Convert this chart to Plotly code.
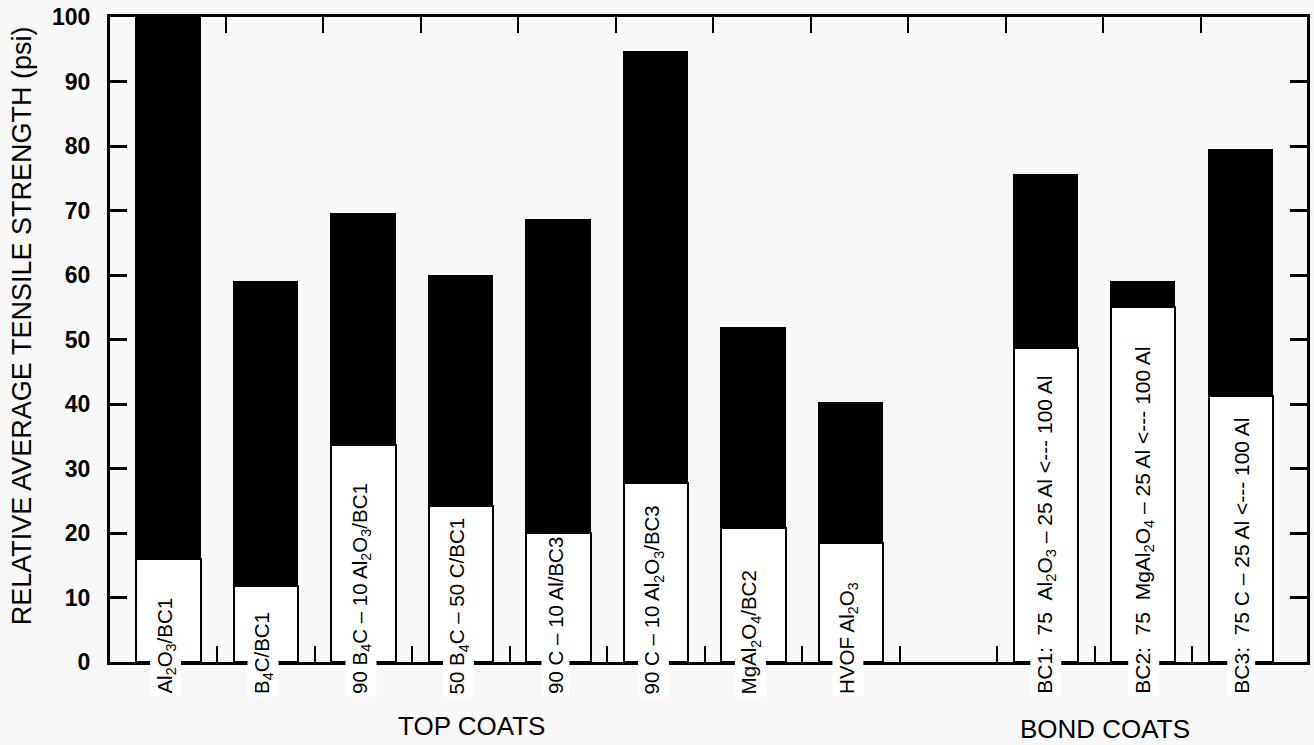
import plotly.graph_objects as go

# ---- data ----
labels = [
    "Al<sub>2</sub>O<sub>3</sub>/BC1",
    "B<sub>4</sub>C/BC1",
    "90 B<sub>4</sub>C – 10 Al<sub>2</sub>O<sub>3</sub>/BC1",
    "50 B<sub>4</sub>C – 50 C/BC1",
    "90 C – 10 Al/BC3",
    "90 C – 10 Al<sub>2</sub>O<sub>3</sub>/BC3",
    "MgAl<sub>2</sub>O<sub>4</sub>/BC2",
    "HVOF Al<sub>2</sub>O<sub>3</sub>",
    "BC1:&nbsp; 75 &nbsp;Al<sub>2</sub>O<sub>3</sub> – 25 Al &lt;--- 100 Al",
    "BC2:&nbsp; 75 &nbsp;MgAl<sub>2</sub>O<sub>4</sub> – 25 Al &lt;--- 100 Al",
    "BC3:&nbsp; 75 C – 25 Al &lt;--- 100 Al",
]
total_strength = [100, 58.9, 69.4, 59.8, 68.6, 94.6, 51.8, 40.2, 75.5, 58.9, 79.4]
white_strength = [16.0, 11.8, 33.7, 24.2, 20.0, 27.7, 20.8, 18.5, 48.7, 55.0, 41.2]
y_ticks = [0, 10, 20, 30, 40, 50, 60, 70, 80, 90, 100]
group_titles = ["TOP COATS", "BOND COATS"]

# ---- layout helpers (positions, not data) ----
positions = [0, 1, 2, 3, 4, 5, 6, 7, 9, 10, 11]
bottom_ticks = [k + 0.5 for k in range(11)]
top_ticks = [k + 0.59 for k in range(11)]
black_part = [t - w for t, w in zip(total_strength, white_strength)]

BG = "#f8f8f8"
FAM = "Liberation Sans, Arial"

fig = go.Figure()
fig.add_trace(go.Bar(x=positions, y=white_strength, width=0.66,
                     marker=dict(color="white", line=dict(color="black", width=2)),
                     showlegend=False, hoverinfo="skip"))
fig.add_trace(go.Bar(x=positions, y=black_part, width=0.66,
                     marker=dict(color="black", line=dict(color="black", width=1)),
                     showlegend=False, hoverinfo="skip"))
# invisible trace to hold the top axis
fig.add_trace(go.Scatter(x=[0], y=[0], xaxis="x2", mode="markers",
                         marker=dict(opacity=0), showlegend=False, hoverinfo="skip"))

xr = [-0.60, 11.68]
fig.update_layout(
    width=1314, height=745, autosize=False,
    barmode="stack", bargap=0,
    paper_bgcolor=BG, plot_bgcolor=BG,
    margin=dict(l=110, r=4, t=17, b=83),
    font=dict(family=FAM, color="black"),
    xaxis=dict(range=xr, showgrid=False, zeroline=False, showline=True,
               linecolor="black", linewidth=3,
               tickmode="array", tickvals=bottom_ticks, showticklabels=False,
               ticks="inside", ticklen=16, tickwidth=2, tickcolor="black"),
    xaxis2=dict(range=xr, overlaying="x", side="top", anchor="y",
                showgrid=False, zeroline=False, showline=True,
                linecolor="black", linewidth=3,
                tickmode="array", tickvals=top_ticks, showticklabels=False,
                ticks="inside", ticklen=16, tickwidth=2, tickcolor="black"),
    yaxis=dict(range=[0, 100], showgrid=False, zeroline=False, showline=True,
               linecolor="black", linewidth=3, mirror="ticks",
               tickmode="array", tickvals=y_ticks,
               ticks="inside", ticklen=17, tickwidth=2.5, tickcolor="black",
               tickfont=dict(family=FAM, size=23, color="black", weight="bold"),
               ticklabelstandoff=12),
)

PX_TOP, PX_BOT = 17, 662
def py(pix):
    return (PX_BOT - pix) / (PX_BOT - PX_TOP)
def px(pix):
    return (pix - 110) / 1200

annotations = []
for p, lab in zip(positions, labels):
    top_coat = p < 8
    annotations.append(dict(x=p - (0.03 if top_coat else 0.0), y=py(697),
                            xref="x", yref="paper", text=lab,
                            textangle=-90, xanchor="center", yanchor="bottom",
                            showarrow=False, bgcolor="white", borderpad=2,
                            font=dict(family=FAM, size=20.5 if top_coat else 21,
                                      color="black")))
annotations.append(dict(x=px(22), y=py(326), xref="paper", yref="paper",
                        text="RELATIVE AVERAGE TENSILE STRENGTH (psi)",
                        textangle=-90, xanchor="center", yanchor="middle",
                        showarrow=False, font=dict(family=FAM, size=27, color="black")))
annotations.append(dict(x=px(472), y=py(726), xref="paper", yref="paper",
                        text=group_titles[0], xanchor="center", yanchor="middle",
                        showarrow=False, font=dict(family=FAM, size=26, color="black")))
annotations.append(dict(x=px(1107), y=py(729), xref="paper", yref="paper",
                        text=group_titles[1], xanchor="center", yanchor="middle",
                        showarrow=False, font=dict(family=FAM, size=26, color="black")))
fig.update_layout(annotations=annotations)

fig.write_html("out.html", config={"displayModeBar": False},
               post_script="document.body.style.margin='0';")
